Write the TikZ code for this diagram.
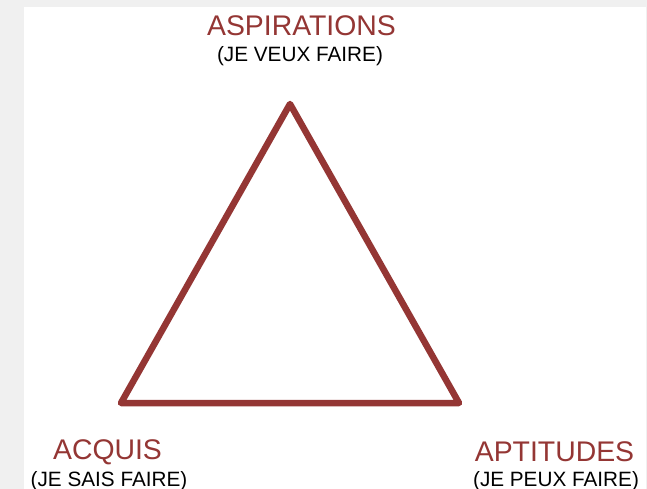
\documentclass[tikz,border=0pt]{standalone}
\usepackage{fontspec}
\setmainfont{Liberation Sans}
\definecolor{tri}{HTML}{943634}
\definecolor{bggray}{HTML}{F0F0F0}
\begin{document}
\begin{tikzpicture}[x=1bp,y=-1bp,
  title/.style={inner sep=0pt,anchor=base,text=tri,font=\fontsize{28.5}{30}\selectfont},
  sub/.style={inner sep=0pt,anchor=base,text=black,font=\fontsize{20.8}{22}\selectfont},
  edge/.style={draw=tri,line width=6.5bp,line join=round,line cap=round}]
\fill[bggray] (0,0) rectangle (647,489);
\fill[white] (24,7) rectangle (646,489);
\useasboundingbox (0,0) rectangle (647,489);
\coordinate (top) at (290,104);
\coordinate (bl) at (121,403);
\coordinate (br) at (459,403);
\draw[edge] (top) -- (br) -- (bl) -- cycle;
\node[title] (asp) at (301.5,36) {ASPIRATIONS};
\node[sub] (aspsub) at (300,62) {(JE VEUX FAIRE)};
\node[title] (acq) at (107.5,459) {ACQUIS};
\node[sub] (acqsub) at (109,486) {(JE SAIS FAIRE)};
\node[title] (apt) at (554.5,461) {APTITUDES};
\node[sub] (aptsub) at (556,486) {(JE PEUX FAIRE)};
\end{tikzpicture}
\end{document}
